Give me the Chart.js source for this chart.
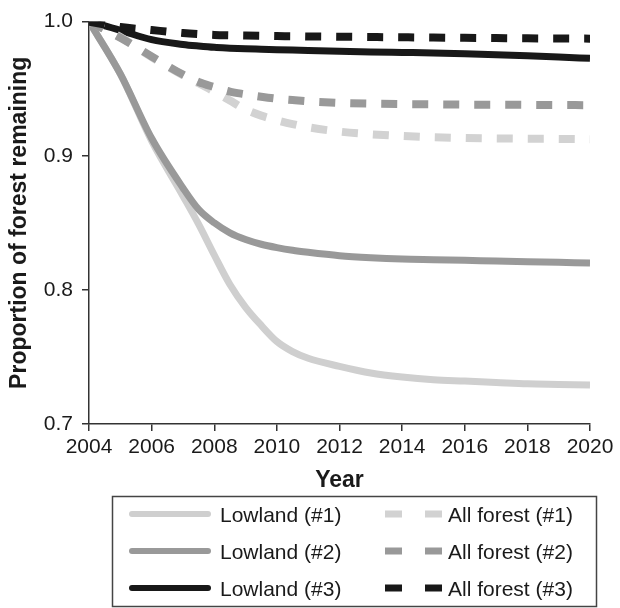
<!DOCTYPE html>
<html>
<head>
<meta charset="utf-8">
<script src="https://cdn.jsdelivr.net/npm/chart.js@4"></script>
<style>
  html, body { margin: 0; padding: 0; background: #ffffff; }
  #wrap { position: relative; width: 620px; height: 608px; }
</style>
</head>
<body>
<div id="wrap"><canvas id="c"></canvas></div>
<script>
// ---- data ----
const years = [2004, 2005, 2006, 2007, 2007.5, 2008, 2008.5, 2009, 2009.5, 2010, 2010.5, 2011, 2012, 2013, 2014, 2015, 2016, 2017, 2018, 2019, 2020];
const lowland1  = [1.000, 0.961, 0.911, 0.870, 0.849, 0.826, 0.804, 0.787, 0.7735, 0.7615, 0.754, 0.749, 0.743, 0.738, 0.735, 0.733, 0.732, 0.731, 0.730, 0.7295, 0.729];
const lowland2  = [1.000, 0.961, 0.913, 0.876, 0.860, 0.850, 0.8425, 0.8375, 0.834, 0.8315, 0.8295, 0.828, 0.8255, 0.824, 0.823, 0.8225, 0.822, 0.8215, 0.821, 0.8205, 0.820];
const lowland3  = [1.000, 0.9935, 0.9865, 0.9830, 0.9818, 0.9808, 0.9802, 0.9797, 0.9794, 0.9791, 0.9788, 0.9785, 0.9779, 0.9774, 0.9770, 0.9766, 0.9760, 0.9753, 0.9745, 0.9736, 0.9726];
const allForest1 = [1.000, 0.9885, 0.9735, 0.960, 0.9540, 0.9478, 0.9412, 0.9345, 0.9299, 0.9265, 0.9236, 0.9212, 0.9180, 0.9160, 0.9147, 0.9138, 0.9133, 0.9129, 0.9127, 0.9125, 0.9123];
const allForest2 = [1.000, 0.988, 0.974, 0.9605, 0.955, 0.9512, 0.9478, 0.9458, 0.9440, 0.9425, 0.9415, 0.9406, 0.9394, 0.9388, 0.9385, 0.9383, 0.9381, 0.9380, 0.9379, 0.9378, 0.9377];
const allForest3 = [1.000, 0.9960, 0.9937, 0.9915, 0.9907, 0.9901, 0.9898, 0.9896, 0.9894, 0.9892, 0.9891, 0.9889, 0.9887, 0.9885, 0.9883, 0.9881, 0.9879, 0.9877, 0.9875, 0.9874, 0.9873];
const seriesLabels = ['Lowland (#1)', 'Lowland (#2)', 'Lowland (#3)', 'All forest (#1)', 'All forest (#2)', 'All forest (#3)'];
const xTicks = [2004, 2006, 2008, 2010, 2012, 2014, 2016, 2018, 2020];
const yTicks = [0.7, 0.8, 0.9, 1.0];

const LIGHT = '#cfcfcf', MID = '#999999', DARK = '#181818';
const FONT = "'Liberation Sans', Arial, Helvetica, sans-serif";
Chart.defaults.font.family = FONT;
Chart.defaults.color = '#1a1a1a';

const pts = arr => years.map((y, i) => ({ x: y, y: arr[i] }));
function solid(label, arr, color, order) {
  return { label, data: pts(arr), borderColor: color, backgroundColor: color, borderWidth: 7,
           pointRadius: 0, cubicInterpolationMode: 'monotone', borderCapStyle: 'butt', order, fill: false };
}
function dashed(label, arr, color, order) {
  return { label, data: pts(arr), borderColor: color, backgroundColor: color, borderWidth: 8,
           borderDash: [16, 15], pointRadius: 0, cubicInterpolationMode: 'monotone', borderCapStyle: 'butt', order, fill: false, isDashed: true };
}

const boxLegend = {
  id: 'boxLegend',
  afterDraw(chart) {
    const ctx = chart.ctx;
    const ds = chart.data.datasets;
    ctx.save();
    // frame
    ctx.strokeStyle = '#444';
    ctx.lineWidth = 1.5;
    ctx.strokeRect(112.5, 496.5, 484, 110);
    const rows = [514, 551, 588];
    ctx.font = '21px ' + FONT;
    ctx.fillStyle = '#1a1a1a';
    ctx.textBaseline = 'alphabetic';
    ctx.textAlign = 'left';
    for (let i = 0; i < 3; i++) {
      const y = rows[i];
      // solid sample
      const s = ds[i];
      ctx.setLineDash([]);
      ctx.lineCap = 'round';
      ctx.lineWidth = 6;
      ctx.strokeStyle = s.borderColor;
      ctx.beginPath(); ctx.moveTo(132, y); ctx.lineTo(208, y); ctx.stroke();
      ctx.fillText(s.label, 220, y + 7.5);
      // dashed sample
      const d = ds[i + 3];
      ctx.lineCap = 'butt';
      ctx.lineWidth = 7;
      ctx.strokeStyle = d.borderColor;
      ctx.setLineDash([17, 23]);
      ctx.beginPath(); ctx.moveTo(385, y); ctx.lineTo(442, y); ctx.stroke();
      ctx.setLineDash([]);
      ctx.fillText(d.label, 448, y + 7.5);
    }
    ctx.restore();
  }
};

new Chart(document.getElementById('c'), {
  type: 'line',
  data: {
    datasets: [
      solid(seriesLabels[0], lowland1, LIGHT, 6),
      solid(seriesLabels[1], lowland2, MID, 5),
      solid(seriesLabels[2], lowland3, DARK, 4),
      dashed(seriesLabels[3], allForest1, '#d2d2d2', 3),
      dashed(seriesLabels[4], allForest2, MID, 2),
      dashed(seriesLabels[5], allForest3, DARK, 1)
    ]
  },
  options: {
    responsive: true,
    maintainAspectRatio: false,
    animation: false,
    layout: { padding: { left: 0, right: 30, top: 16, bottom: 114 } },
    plugins: { legend: { display: false }, tooltip: { enabled: false }, title: { display: false } },
    scales: {
      x: {
        type: 'linear', min: 2004, max: 2020,
        afterBuildTicks: s => { s.ticks = xTicks.map(v => ({ value: v })); },
        afterFit: s => { s.height = 70; },
        ticks: { font: { size: 21 }, color: '#1a1a1a', padding: 4, maxRotation: 0, autoSkip: false,
                 callback: v => String(v) },
        grid: { drawOnChartArea: false, drawTicks: true, tickLength: 7, color: '#333', lineWidth: 1.5 },
        border: { display: true, color: '#333', width: 1.5 },
        title: { display: true, text: 'Year', font: { size: 23, weight: 'bold' }, color: '#1a1a1a', padding: 0 }
      },
      y: {
        type: 'linear', min: 0.7, max: 1.0,
        afterBuildTicks: s => { s.ticks = yTicks.map(v => ({ value: v })); },
        afterFit: s => { s.width = 89; },
        ticks: { font: { size: 21 }, color: '#1a1a1a', padding: 9, callback: v => Number(v).toFixed(1) },
        grid: { drawOnChartArea: false, drawTicks: true, tickLength: 7, color: '#333', lineWidth: 1.5 },
        border: { display: true, color: '#333', width: 1.5 },
        title: { display: true, text: 'Proportion of forest remaining', font: { size: 23, weight: 'bold' }, color: '#1a1a1a', padding: { top: 6, bottom: 0 } }
      }
    }
  },
  plugins: [boxLegend]
});
</script>
</body>
</html>
